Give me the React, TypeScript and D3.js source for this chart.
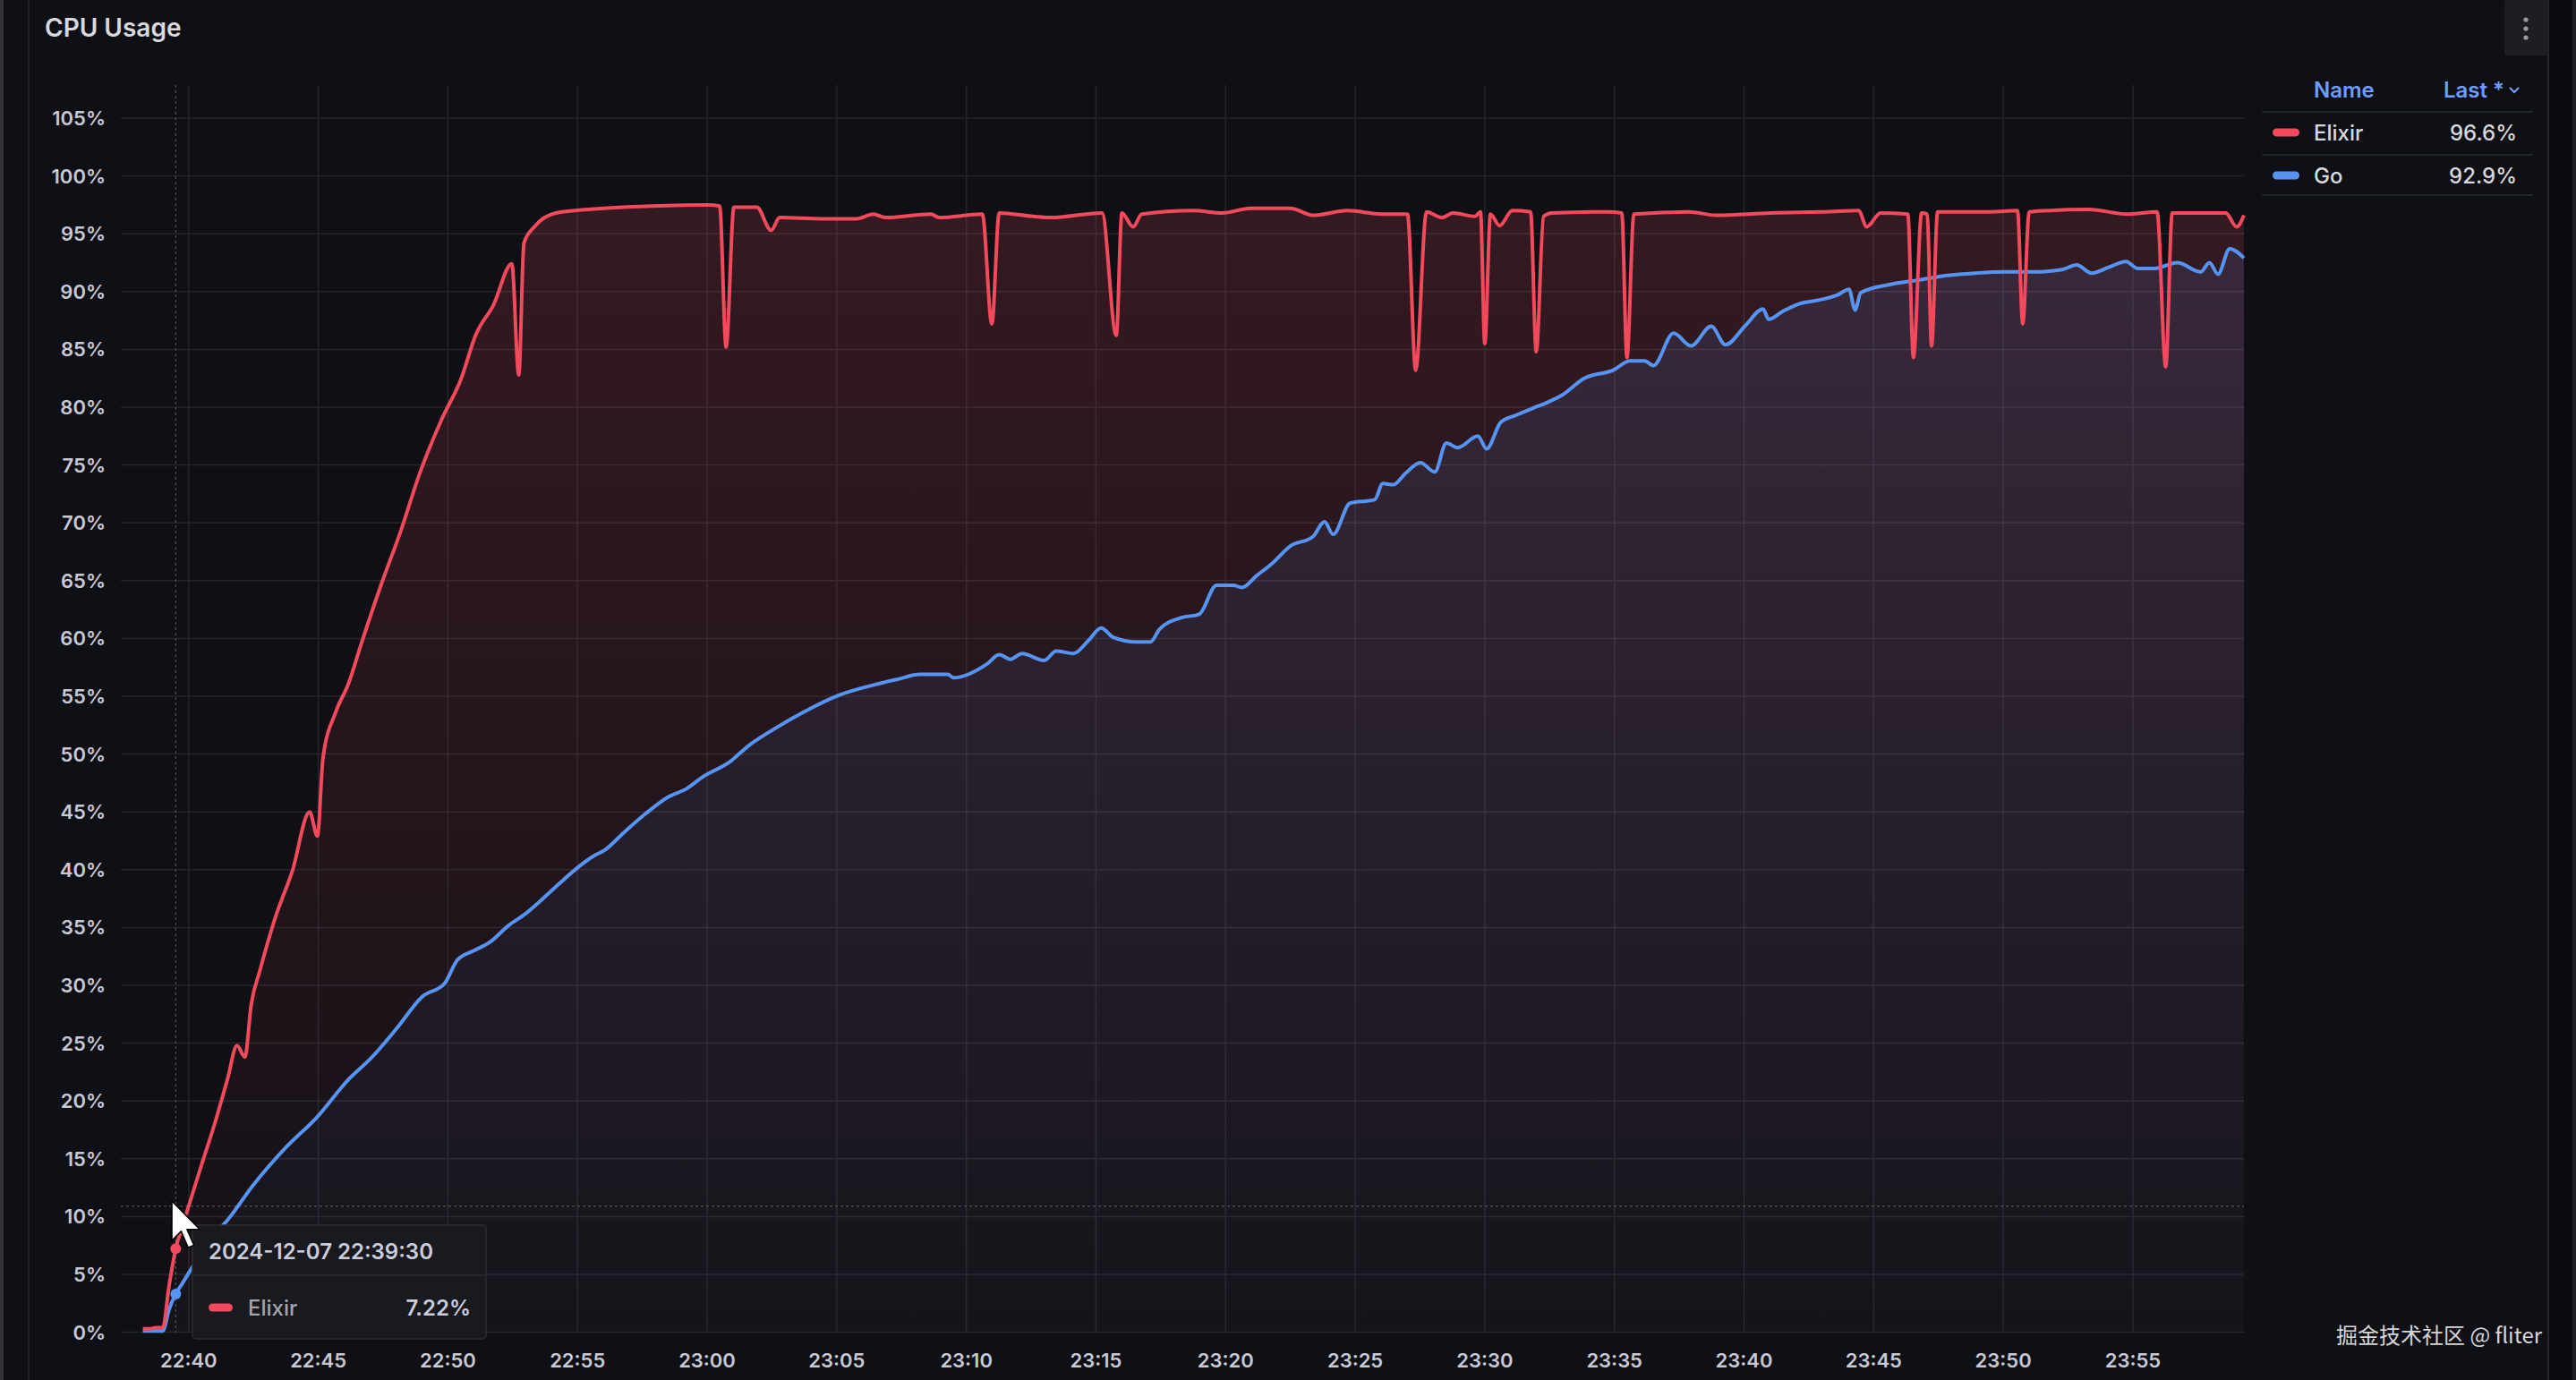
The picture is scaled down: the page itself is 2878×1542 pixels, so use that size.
import * as d3 from "d3";
import React from "react";

// CPU usage, sampled from the dashboard (time of day, percent)
const elixirSeries: [string, number][] = [
  ["22:38:14", 0.3], ["22:38:30", 0.3], ["22:38:45", 0.4], ["22:39:00", 0.4],
  ["22:39:15", 4.1], ["22:39:30", 7.22], ["22:39:45", 9.1], ["22:40:00", 10.9],
  ["22:40:30", 14.5], ["22:41:00", 18.0], ["22:41:30", 21.9], ["22:41:52", 24.8],
  ["22:42:10", 23.8], ["22:42:25", 28.4], ["22:42:45", 31.3], ["22:43:20", 35.8],
  ["22:44:00", 39.9], ["22:44:40", 45.0], ["22:44:58", 42.9], ["22:45:11", 49.7],
  ["22:45:40", 53.6], ["22:46:10", 56.1], ["22:46:40", 59.6], ["22:47:25", 64.6],
  ["22:48:10", 69.2], ["22:48:55", 74.3], ["22:49:45", 78.9], ["22:50:30", 82.4],
  ["22:51:05", 86.3], ["22:51:45", 88.8], ["22:52:28", 92.4], ["22:52:44", 82.8],
  ["22:52:56", 94.2], ["22:53:20", 95.6], ["22:54:10", 96.8], ["22:55:25", 97.1],
  ["22:57:50", 97.4], ["23:00:02", 97.5], ["23:00:29", 97.4], ["23:00:44", 85.2],
  ["23:01:02", 97.3], ["23:01:55", 97.3], ["23:02:28", 95.3], ["23:02:48", 96.4],
  ["23:04:26", 96.3], ["23:05:46", 96.3], ["23:06:25", 96.7], ["23:06:52", 96.4],
  ["23:08:38", 96.7], ["23:08:58", 96.4], ["23:10:37", 96.7], ["23:10:59", 87.2],
  ["23:11:16", 96.8], ["23:12:35", 96.5], ["23:13:15", 96.4], ["23:15:14", 96.8],
  ["23:15:47", 86.2], ["23:16:00", 96.8], ["23:16:26", 95.6], ["23:16:46", 96.7],
  ["23:18:46", 97.0], ["23:19:52", 96.8], ["23:20:58", 97.2], ["23:22:30", 97.2],
  ["23:23:22", 96.6], ["23:24:42", 97.0], ["23:26:01", 96.7], ["23:27:01", 96.7],
  ["23:27:20", 83.2], ["23:27:45", 96.9], ["23:28:21", 96.4], ["23:28:46", 96.8],
  ["23:29:37", 96.5], ["23:29:50", 96.9], ["23:30:00", 85.5], ["23:30:13", 96.7],
  ["23:30:34", 95.7], ["23:31:04", 97.0], ["23:31:46", 96.9], ["23:31:59", 84.8],
  ["23:32:16", 96.5], ["23:32:35", 96.8], ["23:34:42", 96.9], ["23:35:17", 96.8],
  ["23:35:29", 84.3], ["23:35:45", 96.7], ["23:37:52", 96.9], ["23:38:55", 96.6],
  ["23:41:02", 96.8], ["23:43:10", 96.9], ["23:44:25", 97.0], ["23:44:44", 95.6],
  ["23:45:16", 96.8], ["23:46:19", 96.7], ["23:46:32", 84.3], ["23:46:51", 96.8],
  ["23:47:04", 96.7], ["23:47:14", 85.3], ["23:47:28", 96.9], ["23:49:30", 96.9],
  ["23:50:33", 97.0], ["23:50:45", 87.2], ["23:51:00", 96.9], ["23:53:18", 97.1],
  ["23:54:47", 96.7], ["23:55:56", 96.9], ["23:56:16", 83.5], ["23:56:31", 96.8],
  ["23:58:35", 96.8], ["23:59:00", 95.6], ["23:59:17", 96.6],
];

const goSeries: [string, number][] = [
  ["22:38:14", 0.1], ["22:39:00", 0.1], ["22:39:15", 2.0], ["22:39:30", 3.3],
  ["22:39:45", 4.2], ["22:40:08", 5.6], ["22:40:46", 7.9], ["22:41:30", 9.7],
  ["22:42:29", 12.7], ["22:43:43", 15.9], ["22:44:57", 18.6], ["22:46:11", 21.9],
  ["22:47:02", 23.7], ["22:48:02", 26.3], ["22:49:00", 29.0], ["22:49:53", 30.2],
  ["22:50:22", 32.2], ["22:51:00", 33.0], ["22:51:36", 33.7], ["22:52:21", 35.2],
  ["22:53:00", 36.2], ["22:53:34", 37.3], ["22:54:18", 38.8], ["22:54:48", 39.8],
  ["22:55:38", 41.2], ["22:56:03", 41.7], ["22:56:47", 43.2], ["22:57:36", 44.8],
  ["22:58:30", 46.3], ["22:59:12", 47.0], ["22:59:49", 48.0], ["23:00:55", 49.4],
  ["23:01:35", 50.7], ["23:02:41", 52.3], ["23:03:47", 53.7], ["23:05:06", 55.1],
  ["23:06:39", 56.1], ["23:07:24", 56.5], ["23:08:11", 56.9], ["23:09:17", 56.9],
  ["23:09:30", 56.6], ["23:10:48", 57.8], ["23:11:16", 58.6], ["23:11:42", 58.2],
  ["23:12:09", 58.7], ["23:13:00", 58.1], ["23:13:28", 58.9], ["23:14:08", 58.7],
  ["23:14:42", 59.8], ["23:15:12", 60.9], ["23:15:40", 60.1], ["23:16:33", 59.7],
  ["23:17:06", 59.7], ["23:17:27", 60.8], ["23:18:18", 61.8], ["23:18:59", 62.1],
  ["23:19:39", 64.6], ["23:20:18", 64.6], ["23:20:38", 64.4], ["23:21:11", 65.4],
  ["23:21:48", 66.5], ["23:22:30", 68.0], ["23:23:22", 68.8], ["23:23:49", 70.1],
  ["23:24:09", 69.0], ["23:24:48", 71.7], ["23:25:45", 72.0], ["23:26:04", 73.4],
  ["23:26:28", 73.3], ["23:26:57", 74.3], ["23:27:31", 75.2], ["23:28:04", 74.4],
  ["23:28:31", 76.9], ["23:28:57", 76.5], ["23:29:44", 77.5], ["23:30:04", 76.4],
  ["23:30:37", 78.7], ["23:31:12", 79.3], ["23:31:50", 79.9], ["23:32:24", 80.4],
  ["23:32:57", 81.0], ["23:33:50", 82.5], ["23:34:57", 83.2], ["23:35:36", 84.0],
  ["23:36:10", 84.0], ["23:36:30", 83.6], ["23:37:17", 86.4], ["23:37:57", 85.3],
  ["23:38:44", 87.0], ["23:39:17", 85.4], ["23:40:04", 87.1], ["23:40:44", 88.5],
  ["23:40:57", 87.6], ["23:41:30", 88.3], ["23:42:04", 88.9], ["23:42:57", 89.3],
  ["23:43:36", 89.7], ["23:44:03", 90.2], ["23:44:17", 88.4], ["23:44:30", 89.9],
  ["23:45:36", 90.6], ["23:46:44", 91.0], ["23:47:50", 91.4], ["23:48:57", 91.6],
  ["23:50:04", 91.7], ["23:51:10", 91.7], ["23:52:16", 91.9], ["23:52:50", 92.3],
  ["23:53:24", 91.6], ["23:54:04", 92.1], ["23:54:44", 92.6], ["23:55:11", 92.0],
  ["23:55:50", 92.0], ["23:56:43", 92.5], ["23:57:37", 91.7], ["23:57:57", 92.5],
  ["23:58:17", 91.5], ["23:58:44", 93.7], ["23:59:17", 92.9],
];

const yTicks = [0, 5, 10, 15, 20, 25, 30, 35, 40, 45, 50, 55, 60, 65, 70, 75, 80, 85, 90, 95, 100, 105];
const xTickLabels = ["22:40", "22:45", "22:50", "22:55", "23:00", "23:05", "23:10", "23:15",
  "23:20", "23:25", "23:30", "23:35", "23:40", "23:45", "23:50", "23:55"];

const legendNames = ["Elixir", "Go"];
const legendLast = ["96.6%", "92.9%"];
const seriesColors = ["#F2495C", "#5794F2"];

const hoverTime = "22:39:30";
const hoverElixir = 7.22;
const hoverGo = 3.3;
const crosshairValue = 10.9;

const FONT = "Inter, 'Noto Sans', sans-serif";
const W = 2878;
const H = 1542;
const plotLeft = 135;
const plotRight = 2507;
const plotTop = 95;

const parse = d3.timeParse("%Y-%m-%d %H:%M:%S");
const t = (s: string) => parse(`2024-12-07 ${s}`) as Date;

const App: React.FC = () => {
  const x = d3.scaleTime().domain([t("22:37:23"), t("23:59:17")]).range([plotLeft, plotRight]);
  const y = d3.scaleLinear().domain([0, 105]).range([1488.6, 132]);

  const line = d3
    .line<[string, number]>()
    .x((d) => x(t(d[0])))
    .y((d) => y(d[1]))
    .curve(d3.curveMonotoneX);
  const area = d3
    .area<[string, number]>()
    .x((d) => x(t(d[0])))
    .y0(y(0))
    .y1((d) => y(d[1]))
    .curve(d3.curveMonotoneX);

  const hx = x(t(hoverTime));
  const cursor = "M0,0 L0,17 L4,13 L7,20 L9.5,19 L6.5,12.2 L12,12.2 Z";
  const tick = { fontSize: 22, fontWeight: 600, fill: "#c8c9d4" };

  return (
    <svg
      width={W}
      height={H}
      style={{ position: "absolute", left: 0, top: 0, display: "block", fontFamily: FONT }}
    >
      <defs>
        <linearGradient id="redFill" gradientUnits="userSpaceOnUse" x1={0} x2={0} y1={plotTop} y2={1489}>
          <stop offset="0%" stopColor="#F2495C" stopOpacity={0.18} />
          <stop offset="100%" stopColor="#F2495C" stopOpacity={0.02} />
        </linearGradient>
        <linearGradient id="blueFill" gradientUnits="userSpaceOnUse" x1={0} x2={0} y1={plotTop} y2={1489}>
          <stop offset="0%" stopColor="#5794F2" stopOpacity={0.14} />
          <stop offset="100%" stopColor="#5794F2" stopOpacity={0.02} />
        </linearGradient>
      </defs>

      <rect width={W} height={H} fill="#0f1015" />
      <rect x={0} y={0} width={4} height={H} fill="#34353a" />
      <line x1={32} x2={32} y1={0} y2={H} stroke="#24252a" strokeWidth={1.5} />
      <rect x={2848} y={0} width={30} height={H} fill="#0b0c0f" />
      <line x1={2847} x2={2847} y1={0} y2={H} stroke="#2e2f34" strokeWidth={1.5} />
      <rect x={2874} y={0} width={4} height={H} fill="#1f2024" />

      <text x={50} y={31} dominantBaseline="central" fontSize={28} fontWeight={600} fill="#d8d9de">
        CPU Usage
      </text>

      {/* menu button */}
      <rect x={2798} y={0} width={49} height={62} rx={3} fill="#1c1e23" />
      {[22, 32, 42].map((cy) => (
        <circle key={cy} cx={2822} cy={cy} r={2.6} fill="#9a9ba2" />
      ))}

      {/* grid */}
      {yTicks.map((v) => (
        <line key={`h${v}`} x1={plotLeft} x2={plotRight} y1={y(v)} y2={y(v)} stroke="#25262c" strokeWidth={1.5} />
      ))}
      {xTickLabels.map((s) => (
        <line key={`v${s}`} x1={x(t(s + ":00"))} x2={x(t(s + ":00"))} y1={plotTop} y2={y(0)} stroke="#25262c" strokeWidth={1.5} />
      ))}

      {/* series */}
      <path d={area(elixirSeries) || ""} fill="url(#redFill)" />
      <path d={area(goSeries) || ""} fill="url(#blueFill)" />
      <path d={line(goSeries) || ""} fill="none" stroke={seriesColors[1]} strokeWidth={4} strokeLinejoin="round" />
      <path d={line(elixirSeries) || ""} fill="none" stroke={seriesColors[0]} strokeWidth={4} strokeLinejoin="round" />

      {/* axes */}
      {yTicks.map((v) => (
        <text key={`yl${v}`} x={118} y={y(v)} textAnchor="end" dominantBaseline="central" {...tick}>
          {`${v}%`}
        </text>
      ))}
      {xTickLabels.map((s) => (
        <text key={`xl${s}`} x={x(t(s + ":00"))} y={1520} textAnchor="middle" dominantBaseline="central" {...tick}>
          {s}
        </text>
      ))}

      {/* crosshair */}
      <line x1={hx} x2={hx} y1={plotTop} y2={y(0)} stroke="#8e8f99" strokeOpacity={0.6} strokeDasharray="3 3" />
      <line x1={plotLeft} x2={plotRight} y1={y(crosshairValue)} y2={y(crosshairValue)} stroke="#8e8f99" strokeOpacity={0.6} strokeDasharray="3 3" />
      <circle cx={hx} cy={y(hoverElixir)} r={6} fill={seriesColors[0]} />
      <circle cx={hx} cy={y(hoverGo)} r={6} fill={seriesColors[1]} />

      {/* legend */}
      <text x={2585} y={100} dominantBaseline="central" fontSize={24} fontWeight={600} fill="#6E9FFF">
        Name
      </text>
      <text x={2798} y={100} textAnchor="end" dominantBaseline="central" fontSize={24} fontWeight={600} fill="#6E9FFF">
        Last *
      </text>
      <polyline points="2804,98 2809,103 2814,98" fill="none" stroke="#6E9FFF" strokeWidth={2} />
      {[125, 173, 218].map((ly) => (
        <line key={ly} x1={2527} x2={2830} y1={ly} y2={ly} stroke="#2a2c32" strokeWidth={1.5} />
      ))}
      {legendNames.map((name, i) => {
        const ry = 148 + i * 48;
        return (
          <g key={name}>
            <rect x={2539} y={ry - 4.5} width={30} height={9} rx={4.5} fill={seriesColors[i]} />
            <text x={2585} y={ry} dominantBaseline="central" fontSize={24} fontWeight={500} fill="#d8d9de">
              {name}
            </text>
            <text x={2812} y={ry} textAnchor="end" dominantBaseline="central" fontSize={24} fontWeight={500} fill="#d8d9de">
              {legendLast[i]}
            </text>
          </g>
        );
      })}

      {/* tooltip */}
      <g>
        <rect x={215} y={1369} width={328} height={127} rx={4} fill="#181a1f" stroke="#2b2e34" strokeWidth={1.5} />
        <line x1={215} x2={543} y1={1425} y2={1425} stroke="#2b2e34" strokeWidth={1.5} />
        <text x={233} y={1398} dominantBaseline="central" fontSize={24} fontWeight={600} fill="#ccccdc">
          {`2024-12-07 ${hoverTime}`}
        </text>
        <rect x={233} y={1456.5} width={27} height={9} rx={4.5} fill={seriesColors[0]} />
        <text x={277} y={1461} dominantBaseline="central" fontSize={24} fontWeight={500} fill="#a3a4ac">
          {legendNames[0]}
        </text>
        <text x={526} y={1461} textAnchor="end" dominantBaseline="central" fontSize={24} fontWeight={600} fill="#ccccdc">
          {`${hoverElixir}%`}
        </text>
      </g>

      {/* mouse pointer */}
      <path d={cursor} transform="translate(192,1342) scale(2.6)" fill="#ffffff" stroke="#000000" strokeWidth={0.6} strokeLinejoin="round" />

      <text x={2840} y={1490} textAnchor="end" dominantBaseline="central" fontSize={24} fill="#d6d6d6"
        fontFamily="'Noto Sans CJK SC', 'Noto Sans', sans-serif">
        掘金技术社区 @ fliter
      </text>
    </svg>
  );
};

export default App;
